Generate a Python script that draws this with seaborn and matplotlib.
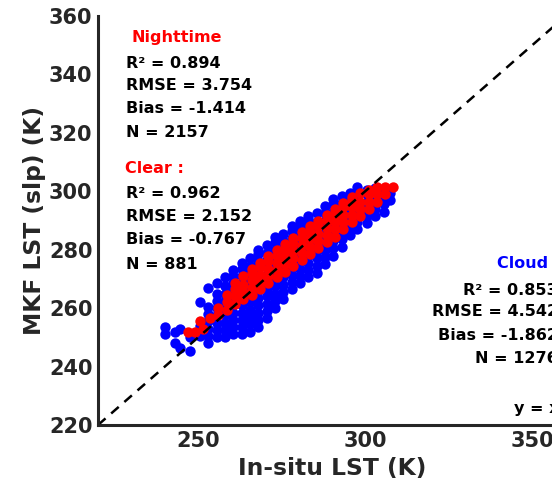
import matplotlib
matplotlib.use('Agg')
import matplotlib.pyplot as plt
import seaborn as sns
import numpy as np
import pandas as pd

# cloud (blue) points: x column centres and the y values read in each column
cloud_x_cols = [240, 243, 244.5, 247.5, 250.5, 253, 255.5, 258, 260.5, 263,
                265.5, 268, 270.5, 273, 275.5, 278, 280.5, 283, 285.5, 288,
                290.5, 293, 295.5, 297.5, 300.5, 303, 305.5, 307.5]
cloud_y_cols = [
    [251, 253.5],
    [248, 252],
    [246.5, 253],
    [245.5, 250],
    [250.5, 254, 262],
    [248, 250.5, 253, 255.5, 258, 260.5, 267],
    [250, 252.5, 255, 257.5, 260, 262.5, 265, 268.5],
    [250, 252.5, 255, 257.5, 260, 262.5, 265, 267.5, 270.5],
    [251, 253.5, 256, 258.5, 261, 263.5, 266, 268.5, 271, 273],
    [251, 253.5, 256, 258.5, 261, 263.5, 266, 268.5, 271, 273.5, 275.5],
    [252, 254.5, 257, 259.5, 262, 264.5, 267, 269.5, 272, 274.5, 277],
    [253.5, 256, 258.5, 261, 263.5, 266, 268.5, 271, 273.5, 276, 278.5, 280],
    [256.5, 259, 261.5, 264, 266.5, 269, 271.5, 274, 276.5, 279, 281.5],
    [260, 262.5, 265, 267.5, 270, 272.5, 275, 277.5, 280, 282.5, 284.5],
    [263, 265.5, 268, 270.5, 273, 275.5, 278, 280.5, 283, 285.5],
    [266.5, 269, 271.5, 274, 276.5, 279, 281.5, 284, 286.5, 288],
    [268.5, 271, 273.5, 276, 278.5, 281, 283.5, 286, 288.5, 290],
    [270.5, 273, 275.5, 278, 280.5, 283, 285.5, 288, 290.5, 291.5],
    [272, 274.5, 277, 279.5, 282, 284.5, 287, 289.5, 292.5],
    [275, 277.5, 280, 282.5, 285, 287.5, 290, 292.5, 295],
    [278, 280.5, 283, 285.5, 288, 290.5, 293, 295.5, 297.5],
    [281, 283.5, 286, 288.5, 291, 293.5, 296, 298.5],
    [285, 287.5, 290, 292.5, 295, 297.5, 299.5],
    [287, 289.5, 292, 294.5, 297, 299.5, 301.5],
    [289, 291.5, 294, 296.5, 299, 300.5],
    [291.5, 294, 296.5, 299, 301],
    [293, 295.5, 298, 300],
    [297, 299.5],
]

# clear (red) points
clear_x_cols = [247, 249, 250.5, 251.5, 253.5, 256, 258.5, 261, 263.5, 266,
                268.5, 271, 273.5, 276, 278.5, 281, 283.5, 286, 288.5, 291,
                293.5, 296, 298.5, 301, 303.5, 306, 308.3]
clear_y_cols = [
    [252],
    [252],
    [255.5],
    [253],
    [256.5],
    [257.5, 260],
    [259.5, 262, 264.5],
    [261.5, 264, 266.5, 268.5],
    [263, 265.5, 268, 271],
    [264.5, 267, 269.5, 272, 273.5],
    [266.5, 269, 271.5, 274, 275.5],
    [268.5, 271, 273.5, 276, 278],
    [270.5, 273, 275.5, 278, 280],
    [272.5, 275, 277.5, 280, 282],
    [274.5, 277, 279.5, 282, 284],
    [276.5, 279, 281.5, 284, 286],
    [278.5, 281, 283.5, 286, 288],
    [280.5, 283, 285.5, 288, 290],
    [282.5, 285, 287.5, 290, 292],
    [284.5, 287, 289.5, 292, 294],
    [287, 289.5, 292, 294.5, 296],
    [289.5, 292, 294.5, 297, 298],
    [291.5, 294, 296.5, 299.5],
    [294, 296.5, 299, 300.5],
    [296.5, 299, 301.5],
    [299, 301.5],
    [301.5],
]

one_to_one = [220, 360]
x_ticks = [250, 300, 350]
y_ticks = [220, 240, 260, 280, 300, 320, 340, 360]

night_stats = ['R² = 0.894', 'RMSE = 3.754', 'Bias = -1.414', 'N = 2157']
clear_stats = ['R² = 0.962', 'RMSE = 2.152', 'Bias = -0.767', 'N = 881']
cloud_stats = ['R² = 0.853', 'RMSE = 4.542', 'Bias = -1.862', 'N = 1276']


def expand(x_cols, y_cols):
    xs = np.repeat(x_cols, [len(c) for c in y_cols])
    ys = np.concatenate([np.asarray(c, dtype=float) for c in y_cols])
    return pd.DataFrame({'x': xs, 'y': ys})


cloud = expand(cloud_x_cols, cloud_y_cols)
clear = expand(clear_x_cols, clear_y_cols)

sns.set_style('white')
plt.rcParams['font.family'] = ['DejaVu Sans']
plt.rcParams['font.weight'] = 'bold'

fig = plt.figure(figsize=(5.52, 4.84), dpi=100)
ax = fig.add_axes([98 / 552, 59 / 484, 467.6 / 552, 409 / 484])

sns.scatterplot(data=cloud, x='x', y='y', color='#0000FF', s=56, linewidth=0, ax=ax)
sns.scatterplot(data=clear, x='x', y='y', color='#FF0000', s=56, linewidth=0, ax=ax)
ax.plot(one_to_one, one_to_one, color='black', linestyle=(0, (4, 3)), linewidth=1.8)

ax.set_xlim(220, 360)
ax.set_ylim(220, 360)
ax.set_xticks(x_ticks)
ax.set_yticks(y_ticks)
sns.despine(ax=ax)
for side in ['left', 'bottom']:
    ax.spines[side].set_linewidth(2.2)
    ax.spines[side].set_color('#262626')
ax.tick_params(direction='in', length=5, width=2, color='#262626',
               labelsize=15, labelcolor='#262626', pad=4)
for lab in ax.get_xticklabels() + ax.get_yticklabels():
    lab.set_fontweight('bold')

ax.set_xlabel('In-situ LST (K)', fontsize=16.8, fontweight='bold', color='#262626', labelpad=5)
ax.set_ylabel('MKF LST (slp) (K)', fontsize=16.8, fontweight='bold', color='#262626', labelpad=2)

txt = dict(fontsize=11.5, fontweight='bold', va='center')
ax.text(229.9, 352.8, 'Nighttime', color='red', **txt)
for yy, s in zip([343.9, 336.1, 328.2, 320.0], night_stats):
    ax.text(228.3, yy, s, color='black', **txt)
ax.text(228.1, 307.7, 'Clear :', color='red', **txt)
for yy, s in zip([299.1, 291.3, 283.4, 274.9], clear_stats):
    ax.text(228.3, yy, s, color='black', **txt)
ax.text(339.5, 275.2, 'Cloud :', color='blue', **txt)
for yy, s in zip([266.0, 258.8, 250.6, 242.7], cloud_stats):
    ax.text(357.7, yy, s, color='black', ha='right', **txt)
ax.text(344.6, 225.6, 'y = x', color='black', **txt)

fig.savefig('out.png', dpi=100)
